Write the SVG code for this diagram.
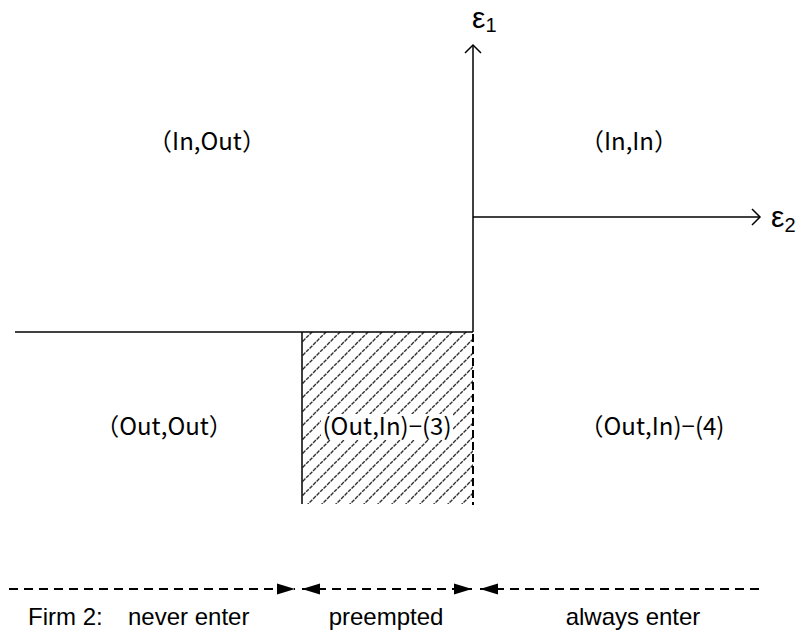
<svg xmlns="http://www.w3.org/2000/svg" width="803" height="632" viewBox="0 0 803 632">
<style>
.ln{stroke:#000;stroke-width:1.5;fill:none}
.dsh{stroke:#000;stroke-width:2;fill:none;stroke-dasharray:8 4}
.bd{stroke:#000;stroke-width:2;fill:none;stroke-dasharray:9 6}
.lab{font-family:"Noto Sans CJK JP","Noto Sans",sans-serif;font-size:24px;fill:#000;text-anchor:middle}
.bot{font-family:"Liberation Sans",Arial,sans-serif;font-size:24px;fill:#000}
.ax{font-family:"Liberation Sans",Arial,sans-serif;fill:#000}
</style>
<defs>
<pattern id="hatch" patternUnits="userSpaceOnUse" width="14" height="14">
<path d="M-2,16 L16,-2 M-2,2 L2,-2 M12,16 L16,12" stroke="#333" stroke-width="1.4" stroke-dasharray="4 1"/>
</pattern>
<marker id="ah" markerUnits="userSpaceOnUse" markerWidth="20" markerHeight="12" refX="18" refY="6" orient="auto-start-reverse">
<path d="M0,0.5 L18,6 L0,11.5 Z" fill="#000"/>
</marker>
</defs>
<g id="region-hatched">
<rect x="302" y="332" width="171" height="172" fill="url(#hatch)"/>
</g>
<g id="connectors">
<line class="ln" x1="473" y1="45" x2="473" y2="332"/>
<path class="ln" d="M465,53 L473,45 L481,53"/>
<line class="ln" x1="473" y1="217" x2="760" y2="217"/>
<path class="ln" d="M752,209 L760,217 L752,225"/>
<line class="ln" x1="15" y1="332" x2="473" y2="332"/>
<line class="ln" x1="302" y1="332" x2="302" y2="504"/>
<line class="dsh" x1="473" y1="334" x2="473" y2="505"/>
<line class="bd" x1="9" y1="589" x2="295" y2="589" marker-end="url(#ah)"/>
<line class="bd" x1="302" y1="589" x2="472" y2="589" marker-start="url(#ah)" marker-end="url(#ah)"/>
<line class="bd" x1="480" y1="589" x2="765" y2="589" marker-start="url(#ah)"/>
</g>
<g id="axis-e1">
<text class="ax" x="472" y="28" font-size="30">ε<tspan font-size="20" dy="4">1</tspan></text>
</g>
<g id="axis-e2">
<text class="ax" x="771" y="227" font-size="30">ε<tspan font-size="20" dy="5">2</tspan></text>
</g>
<g id="in-out"><text class="lab" x="207" y="150">（In,Out）</text></g>
<g id="in-in"><text class="lab" x="629" y="150">（In,In）</text></g>
<g id="out-out"><text class="lab" x="164" y="435">（Out,Out）</text></g>
<g id="out-in-3">
<rect x="321" y="414" width="132" height="26" fill="#fff"/>
<text class="lab" x="387" y="435">(Out,In)−(3)</text>
</g>
<g id="out-in-4"><text class="lab" x="652" y="435">（Out,In)−(4)</text></g>
<g id="legend">
<text class="bot" x="28" y="625">Firm 2:</text>
<text class="bot" x="128" y="625">never enter</text>
<text class="bot" x="386" y="625" text-anchor="middle">preempted</text>
<text class="bot" x="633" y="625" text-anchor="middle">always enter</text>
</g>
</svg>
